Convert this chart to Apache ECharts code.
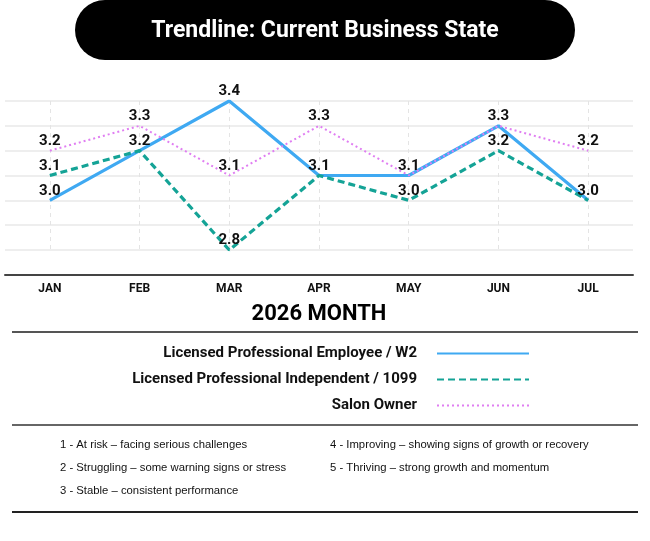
<!DOCTYPE html>
<html>
<head>
<meta charset="utf-8">
<style>html,body{margin:0;padding:0;background:#fff;}#c{width:650px;height:541px;}</style>
<script src="https://cdn.jsdelivr.net/npm/echarts@6/dist/echarts.min.js"></script>
</head>
<body>
<div id="c"></div>
<script>
const categories = ['JAN', 'FEB', 'MAR', 'APR', 'MAY', 'JUN', 'JUL'];
const seriesNames = ['Licensed Professional Employee / W2', 'Licensed Professional Independent / 1099', 'Salon Owner'];
const employeeW2 = [3.0, 3.2, 3.4, 3.1, 3.1, 3.3, 3.0];
const independent1099 = [3.1, 3.2, 2.8, 3.1, 3.0, 3.2, 3.0];
const salonOwner = [3.2, 3.3, 3.1, 3.3, 3.1, 3.3, 3.2];
const titleText = 'Trendline: Current Business State';
const axisTitle = '2026 MONTH';
const notesLeft = ['1 - At risk \u2013 facing serious challenges', '2 - Struggling \u2013 some warning signs or stress', '3 - Stable \u2013 consistent performance'];
const notesRight = ['4 - Improving \u2013 showing signs of growth or recovery', '5 - Thriving \u2013 strong growth and momentum'];

const colors = ['#3FA9F2', '#14A396', '#E07EF2'];
const headFont = 'Roboto';
const labelStyle = {
  show: true, position: 'top', distance: 2, color: '#111', fontWeight: 'bold', fontSize: 15, fontFamily: headFont,
  formatter: p => Number(p.value).toFixed(1)
};

const chart = echarts.init(document.getElementById('c'), null, { renderer: 'canvas' });

const graphics = [
  { type: 'rect', shape: { x: 75, y: 0, width: 500, height: 60, r: 30 }, style: { fill: '#000' } },
  { type: 'text', x: 325, y: 31, style: { text: titleText, fill: '#fff', font: 'bold 23px ' + headFont, align: 'center', verticalAlign: 'middle' } },
  { type: 'text', x: 319, y: 314, style: { text: axisTitle, fill: '#000', font: 'bold 22px ' + headFont, align: 'center', verticalAlign: 'middle' } },
  { type: 'line', shape: { x1: 12, y1: 332, x2: 638, y2: 332 }, style: { stroke: '#555', lineWidth: 2 } },
  { type: 'line', shape: { x1: 12, y1: 425, x2: 638, y2: 425 }, style: { stroke: '#666', lineWidth: 2 } },
  { type: 'line', shape: { x1: 12, y1: 512, x2: 638, y2: 512 }, style: { stroke: '#222', lineWidth: 2 } }
];
notesLeft.forEach((t, i) => graphics.push({ type: 'text', x: 60, y: 445 + i * 23, style: { text: t, fill: '#111', font: '11.3px "Liberation Sans"', verticalAlign: 'middle' } }));
notesRight.forEach((t, i) => graphics.push({ type: 'text', x: 330, y: 445 + i * 23, style: { text: t, fill: '#111', font: '11.3px "Liberation Sans"', verticalAlign: 'middle' } }));

function mkSeries(name, data, color, lineStyle) {
  return {
    name: name, type: 'line', data: data, symbol: 'circle', symbolSize: 0.01, showSymbol: true,
    lineStyle: Object.assign({ color: color }, lineStyle),
    itemStyle: { color: color },
    label: labelStyle,
    labelLayout: { hideOverlap: true }
  };
}

chart.setOption({
  animation: false,
  color: colors,
  grid: { left: 5, right: 17, top: 101, bottom: 291, containLabel: false },
  xAxis: {
    type: 'category', data: categories, boundaryGap: true, offset: 25,
    axisLine: { lineStyle: { color: '#444', width: 2 } },
    axisTick: { show: false },
    axisLabel: { color: '#111', fontWeight: 'bold', fontSize: 12, fontFamily: headFont, margin: 8 },
    splitLine: { show: true, alignWithLabel: true, lineStyle: { color: '#e4e4e4', type: [4, 4], width: 1 } }
  },
  yAxis: {
    type: 'value', min: 2.8, max: 3.4, interval: 0.1,
    axisLine: { show: false }, axisTick: { show: false }, axisLabel: { show: false },
    splitLine: { lineStyle: { color: '#e8e8e8', width: 1.5 } }
  },
  legend: {
    orient: 'vertical', align: 'right', right: 120, top: 346, padding: 0,
    itemWidth: 92, itemHeight: 14, itemGap: 11, selectedMode: false,
    itemStyle: { opacity: 0 },
    textStyle: { color: '#111', fontWeight: 'bold', fontSize: 15, fontFamily: headFont, padding: [0, 15, 0, 0] },
    data: seriesNames
  },
  series: [
    mkSeries(seriesNames[0], employeeW2, colors[0], { width: 3.2, type: 'solid' }),
    mkSeries(seriesNames[1], independent1099, colors[1], { width: 3.2, type: [7, 4] }),
    mkSeries(seriesNames[2], salonOwner, colors[2], { width: 2, type: [2, 3] })
  ],
  graphic: graphics
});
</script>
</body>
</html>
